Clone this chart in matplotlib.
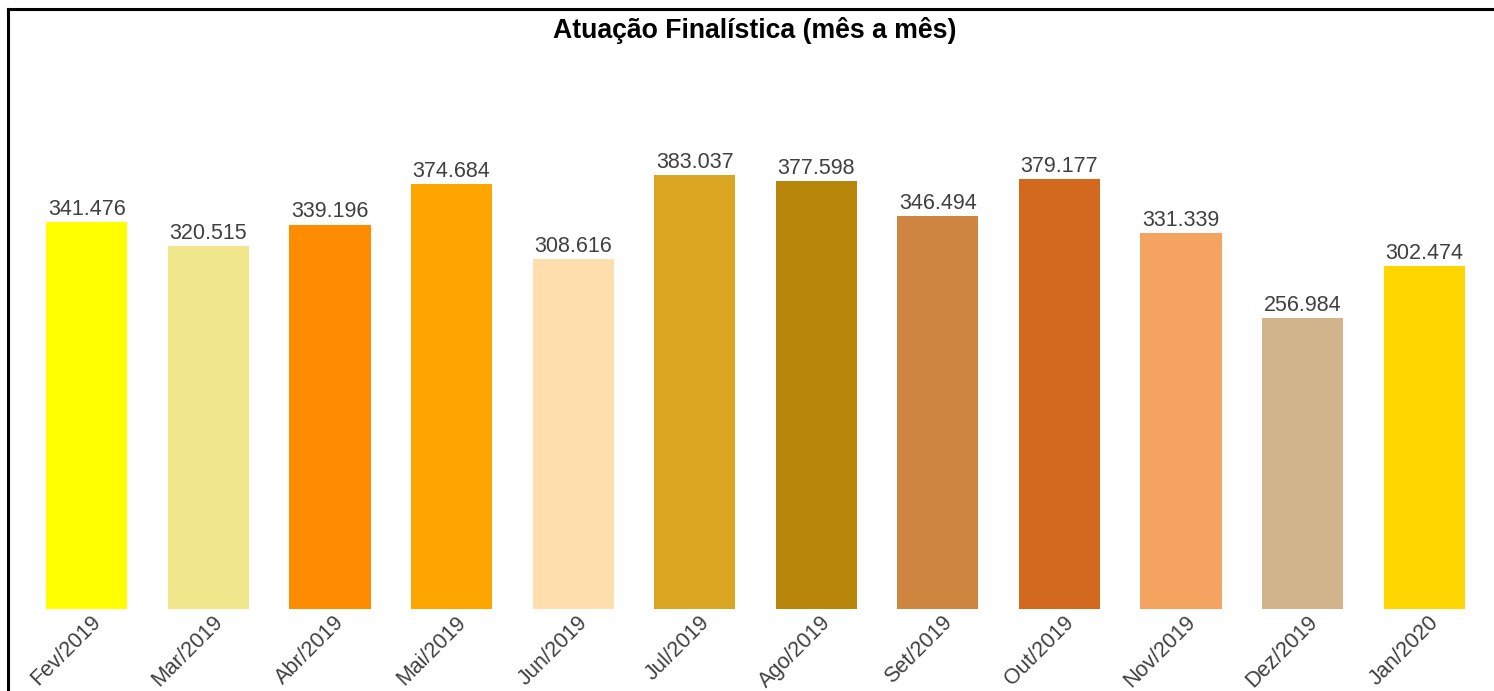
import matplotlib.pyplot as plt
import matplotlib.lines as mlines
import matplotlib.transforms as mtransforms

plt.rcParams['font.family'] = ['Liberation Sans', 'DejaVu Sans']

meses = ['Fev/2019', 'Mar/2019', 'Abr/2019', 'Mai/2019', 'Jun/2019', 'Jul/2019',
         'Ago/2019', 'Set/2019', 'Out/2019', 'Nov/2019', 'Dez/2019', 'Jan/2020']
valores = [341.476, 320.515, 339.196, 374.684, 308.616, 383.037,
           377.598, 346.494, 379.177, 331.339, 256.984, 302.474]
cores = ['#FFFF00', '#F0E68C', '#FF8C00', '#FFA500', '#FFDEAD', '#DAA520',
         '#B8860B', '#CD853F', '#D2691E', '#F4A460', '#D2B48C', '#FFD700']

fig = plt.figure(figsize=(14.94, 6.91), dpi=100)
ax = fig.add_axes([26 / 1494, 1 - 609 / 691, (1485 - 26) / 1494, (609 - 60) / 691])

x = range(len(meses))
bars = ax.bar(x, valores, width=0.667, color=cores)
for b, v in zip(bars, valores):
    ax.annotate(f'{v:.3f}', (b.get_x() + b.get_width() / 2, v), xytext=(0, 1.5),
                textcoords='offset points', ha='center', va='bottom',
                fontsize=15.5, color='#404040')

ax.set_xlim(-0.5, len(meses) - 0.5)
ax.set_ylim(0, 484.4)
ax.set_xticks(list(x))
ax.set_xticklabels(meses, rotation=45, ha='right', va='top', rotation_mode='anchor',
                   fontsize=15.5, color='#404040')
ax.tick_params(axis='x', length=0, pad=2)
# deslocar rótulos um pouco p/ direita
desloc = mtransforms.ScaledTranslation(4 / 100, 0, fig.dpi_scale_trans)
for lbl in ax.get_xticklabels():
    lbl.set_transform(lbl.get_transform() + desloc)
ax.set_yticks([])
for s in ax.spines.values():
    s.set_visible(False)

fig.text(755 / 1494, 1 - 31 / 691, 'Atuação Finalística (mês a mês)', ha='center', va='center',
         fontsize=19.2, fontweight='bold', color='black')

# moldura (só topo e esquerda visíveis)
fig.add_artist(mlines.Line2D([8 / 1494, 8 / 1494], [0, 1 - 9 / 691], color='black', lw=2.2))
fig.add_artist(mlines.Line2D([8 / 1494, 1], [1 - 9 / 691, 1 - 9 / 691], color='black', lw=2.2))

fig.savefig('out.png', dpi=100)
